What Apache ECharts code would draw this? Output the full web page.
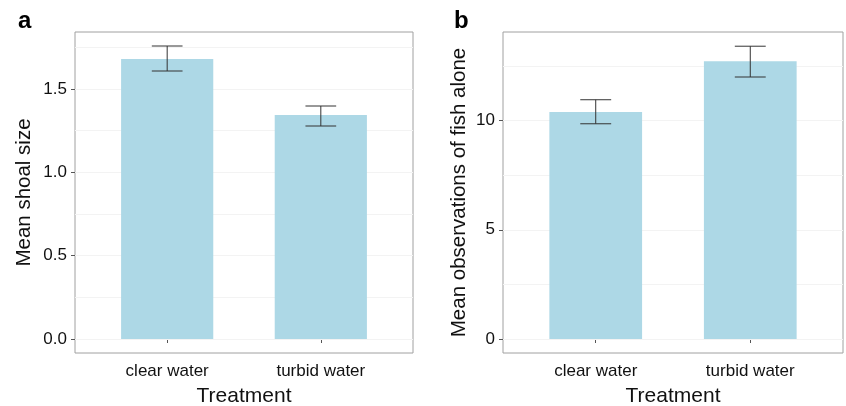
<!DOCTYPE html>
<html>
<head>
<meta charset="utf-8">
<script src="https://cdn.jsdelivr.net/npm/echarts@6/dist/echarts.min.js"></script>
<style>
  html, body { margin: 0; padding: 0; background: #fff; }
  #chart { width: 846px; height: 406px; }
</style>
</head>
<body>
<div id="chart"></div>
<script>
// data
const categories = ["clear water", "turbid water"];
const shoalMean = [1.68, 1.344];
const shoalLow = [1.608, 1.278];
const shoalHigh = [1.758, 1.398];
const aloneMean = [10.39, 12.71];
const aloneLow = [9.85, 11.99];
const aloneHigh = [10.95, 13.40];
const shoalTicks = [0, 0.5, 1.0, 1.5];
const aloneTicks = [0, 5, 10];
const shoalGrid = [0.25, 0.75, 1.25, 1.75];
const aloneGrid = [2.5, 7.5, 12.5];

const FONT = "'Liberation Sans', Arial, sans-serif";
const BAR_HALF = 0.3;
const CAP_HALF = 0.1;

function rows(mean, low, high) {
  return mean.map(function (m, i) {
    return [i + 1, m, low[i], high[i]];
  });
}

function barItem(params, api) {
  const x = api.value(0);
  const p0 = api.coord([x - BAR_HALF, api.value(1)]);
  const p1 = api.coord([x + BAR_HALF, 0]);
  return {
    type: "rect",
    shape: { x: p0[0], y: p0[1], width: p1[0] - p0[0], height: p1[1] - p0[1] },
    style: { fill: "#ADD8E6" },
  };
}

function errItem(params, api) {
  const x = api.value(0);
  const lo = api.coord([x, api.value(2)]);
  const hi = api.coord([x, api.value(3)]);
  const cl = api.coord([x - CAP_HALF, api.value(2)]);
  const cr = api.coord([x + CAP_HALF, api.value(2)]);
  const style = { stroke: "#333", lineWidth: 1 };
  return {
    type: "group",
    children: [
      { type: "line", shape: { x1: lo[0], y1: lo[1], x2: hi[0], y2: hi[1] }, style: style },
      { type: "line", shape: { x1: cl[0], y1: lo[1], x2: cr[0], y2: lo[1] }, style: style },
      { type: "line", shape: { x1: cl[0], y1: hi[1], x2: cr[0], y2: hi[1] }, style: style },
    ],
  };
}

function xAxis(idx) {
  return {
    type: "value",
    gridIndex: idx,
    min: 0.4,
    max: 2.6,
    name: "Treatment",
    nameLocation: "middle",
    nameGap: 33,
    nameTextStyle: { fontFamily: FONT, fontSize: 21, color: "#111" },
    axisLine: { show: false },
    splitLine: { show: false },
    axisTick: { show: true, customValues: [1, 2], length: 4, lineStyle: { color: "#555" } },
    axisLabel: {
      customValues: [1, 2],
      margin: 10,
      fontFamily: FONT,
      fontSize: 17,
      color: "#111",
      formatter: function (v) {
        return categories[Math.round(v) - 1];
      },
    },
  };
}

function yAxis(idx, min, max, ticks, name, gap, digits) {
  return {
    type: "value",
    gridIndex: idx,
    min: min,
    max: max,
    name: name,
    nameLocation: "middle",
    nameGap: gap,
    nameTextStyle: { fontFamily: FONT, fontSize: 20.5, color: "#111" },
    axisLine: { show: false },
    splitLine: { show: false },
    axisTick: { show: true, customValues: ticks, length: 4, lineStyle: { color: "#555" } },
    axisLabel: {
      customValues: ticks,
      margin: 8,
      fontFamily: FONT,
      fontSize: 17,
      color: "#111",
      formatter: function (v) {
        return v.toFixed(digits);
      },
    },
  };
}

// faint background grid lines, kept under the bars
function gridSeries(idx, values) {
  return {
    type: "line",
    xAxisIndex: idx,
    yAxisIndex: idx,
    data: [],
    z: 1,
    markLine: {
      silent: true,
      z: 1,
      symbol: "none",
      label: { show: false },
      lineStyle: { color: "#f3f3f3", type: "solid", width: 1 },
      data: values.map(function (v) { return { yAxis: v }; }),
    },
  };
}

const chart = echarts.init(document.getElementById("chart"));
chart.setOption({
  animation: false,
  title: [
    { text: "a", left: 13, top: 4, textStyle: { fontFamily: FONT, fontSize: 24, fontWeight: "bold", color: "#000" } },
    { text: "b", left: 449, top: 4, textStyle: { fontFamily: FONT, fontSize: 24, fontWeight: "bold", color: "#000" } },
  ],
  grid: [
    { left: 75, right: 433, top: 32, bottom: 53, outerBoundsMode: "none", containLabel: false, show: true, borderColor: "#a0a0a0", borderWidth: 1 },
    { left: 503, right: 3, top: 32, bottom: 53, outerBoundsMode: "none", containLabel: false, show: true, borderColor: "#a0a0a0", borderWidth: 1 },
  ],
  xAxis: [xAxis(0), xAxis(1)],
  yAxis: [
    yAxis(0, -0.084, 1.842, shoalTicks, "Mean shoal size", 40, 1),
    yAxis(1, -0.64, 14.05, aloneTicks, "Mean observations of fish alone", 33, 0),
  ],
  series: [
    gridSeries(0, shoalGrid.concat(shoalTicks)),
    gridSeries(1, aloneGrid.concat(aloneTicks)),
    { type: "custom", xAxisIndex: 0, yAxisIndex: 0, renderItem: barItem, data: rows(shoalMean, shoalLow, shoalHigh), z: 3 },
    { type: "custom", xAxisIndex: 0, yAxisIndex: 0, renderItem: errItem, data: rows(shoalMean, shoalLow, shoalHigh), z: 4 },
    { type: "custom", xAxisIndex: 1, yAxisIndex: 1, renderItem: barItem, data: rows(aloneMean, aloneLow, aloneHigh), z: 3 },
    { type: "custom", xAxisIndex: 1, yAxisIndex: 1, renderItem: errItem, data: rows(aloneMean, aloneLow, aloneHigh), z: 4 },
  ],
});
</script>
</body>
</html>
